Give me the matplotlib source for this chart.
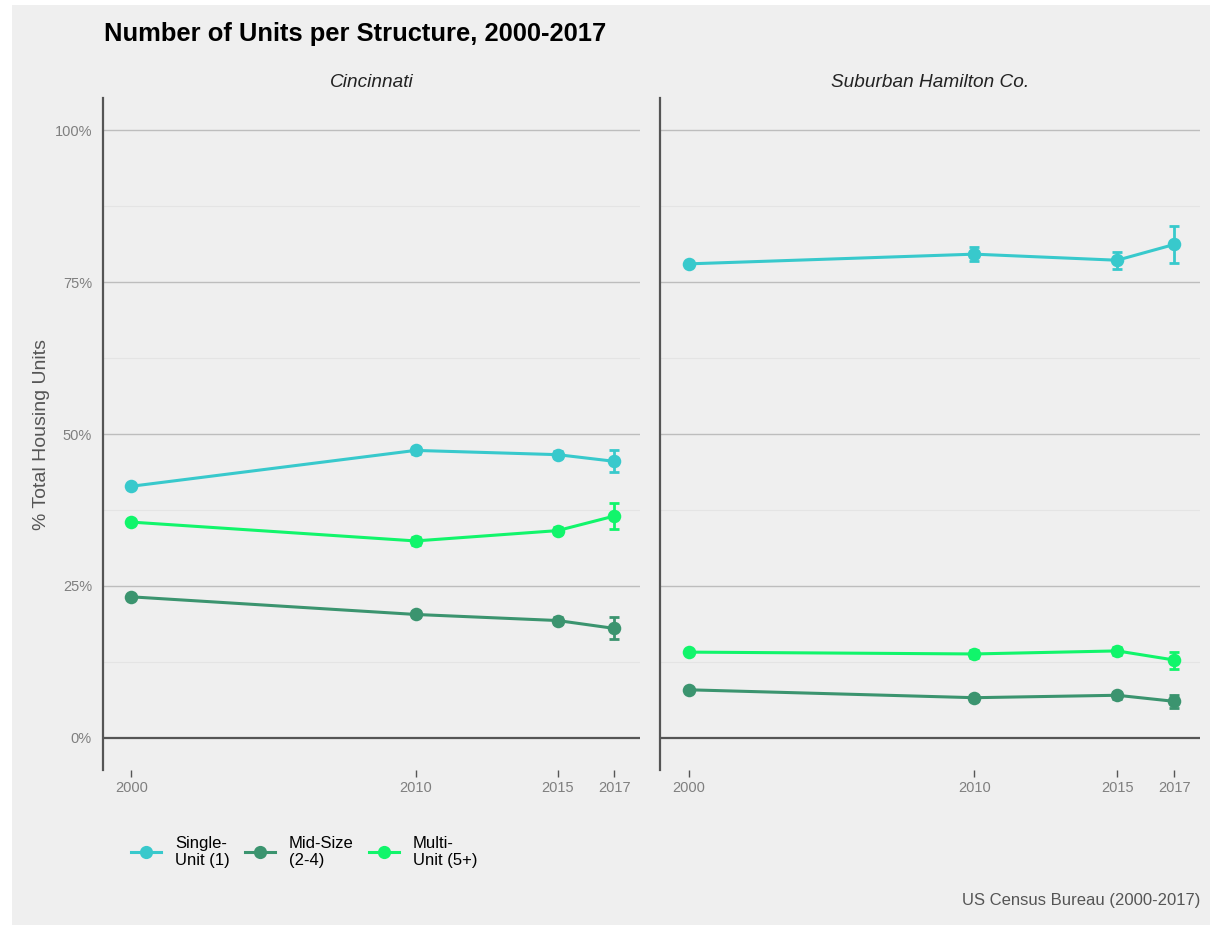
import matplotlib.pyplot as plt
from matplotlib.patches import Rectangle
from matplotlib.lines import Line2D
import numpy as np

plt.rcParams['font.family'] = ['Liberation Sans', 'DejaVu Sans']

years = [2000, 2010, 2015, 2017]
panels = ['Cincinnati', 'Suburban Hamilton Co.']
series = ['Single-\nUnit (1)', 'Mid-Size\n(2-4)', 'Multi-\nUnit (5+)']
colors = ['#38c9cc', '#3b946f', '#11f56b']

# share of housing units (%) and margin of error, per panel and series
cin_single = [41.4, 47.3, 46.6, 45.5]
cin_single_moe = [0, 0.6, 0.6, 1.8]
cin_mid = [23.2, 20.3, 19.3, 18.0]
cin_mid_moe = [0, 0.5, 0.6, 1.8]
cin_multi = [35.5, 32.4, 34.1, 36.5]
cin_multi_moe = [0, 0.6, 0.6, 2.2]

sub_single = [78.0, 79.6, 78.6, 81.2]
sub_single_moe = [0, 1.2, 1.4, 3.0]
sub_mid = [7.9, 6.6, 7.0, 6.0]
sub_mid_moe = [0, 0.5, 0.6, 1.1]
sub_multi = [14.1, 13.8, 14.3, 12.8]
sub_multi_moe = [0, 0.6, 0.6, 1.4]

data = {
    'Cincinnati': [(cin_single, cin_single_moe), (cin_mid, cin_mid_moe), (cin_multi, cin_multi_moe)],
    'Suburban Hamilton Co.': [(sub_single, sub_single_moe), (sub_mid, sub_mid_moe), (sub_multi, sub_multi_moe)],
}

bg = '#efefef'
fig = plt.figure(figsize=(12.1, 9.25), dpi=100, facecolor='white')
fig.patches.append(Rectangle((12 / 1210, 0), 1 - 12 / 1210, 1 - 5 / 925,
                             transform=fig.transFigure, facecolor=bg, edgecolor='none', zorder=-10))

boxes = [(103, 640), (660, 1200)]
top, bottom = 98, 770
axes = []
for (x0, x1), name in zip(boxes, panels):
    ax = fig.add_axes([x0 / 1210, 1 - bottom / 925, (x1 - x0) / 1210, (bottom - top) / 925])
    ax.set_facecolor(bg)
    ax.set_xlim(1999.0, 2017.9)
    ax.set_ylim(-5.3, 105.3)
    for s in ['top', 'right', 'bottom']:
        ax.spines[s].set_visible(False)
    ax.spines['left'].set_color('#555555')
    ax.spines['left'].set_linewidth(1.6)

    for v in [12.5, 37.5, 62.5, 87.5]:
        ax.axhline(v, color='#e4e4e4', lw=0.8, zorder=0)
    for v in [25, 50, 75, 100]:
        ax.axhline(v, color='#bdbdbd', lw=1.0, zorder=0)
    ax.axhline(0, color='#555555', lw=1.6, zorder=1)

    for (vals, moe), c in zip(data[name], colors):
        ax.plot(years, vals, color=c, lw=2.2, zorder=3)
        ax.scatter(years, vals, s=95, color=c, zorder=4, linewidths=0)
        idx = [i for i, m in enumerate(moe) if m > 0]
        ax.errorbar([years[i] for i in idx], [vals[i] for i in idx], yerr=[moe[i] for i in idx],
                    fmt='none', ecolor=c, elinewidth=2, capsize=3.5, capthick=2, zorder=5)

    ax.set_xticks(years)
    ax.set_xticklabels([str(y) for y in years])
    ax.tick_params(axis='x', length=5, width=1, color='#555555', labelcolor='#7f7f7f',
                   labelsize=10.5, pad=3)
    ax.set_yticks([0, 25, 50, 75, 100])
    ax.tick_params(axis='y', length=0, labelsize=10.5, labelcolor='#7f7f7f', pad=8)
    ax.set_title(name, fontsize=13.7, style='italic', color='#222222', pad=8)
    axes.append(ax)

axes[0].set_yticklabels(['0%', '25%', '50%', '75%', '100%'])
axes[1].set_yticklabels([])
axes[0].set_ylabel('% Total Housing Units', fontsize=14, color='#555555', labelpad=3)

fig.text(104 / 1210, 1 - 34 / 925, 'Number of Units per Structure, 2000-2017',
         fontsize=18.4, fontweight='bold', va='center', ha='left')
fig.text(1200 / 1210, 1 - 900 / 925, 'US Census Bureau (2000-2017)',
         fontsize=12, color='#555555', ha='right', va='center')

handles = [Line2D([], [], color=c, lw=2.2, marker='o', markersize=9.5, markeredgewidth=0)
           for c in colors]
leg = fig.legend(handles, series, loc='center left', bbox_to_anchor=(116 / 1210, 1 - 852 / 925),
                 ncol=3, frameon=False, fontsize=12, handlelength=1.8, handletextpad=0.85,
                 columnspacing=0.9, labelspacing=0.2)

fig.savefig('out.png', dpi=100, facecolor='white')
